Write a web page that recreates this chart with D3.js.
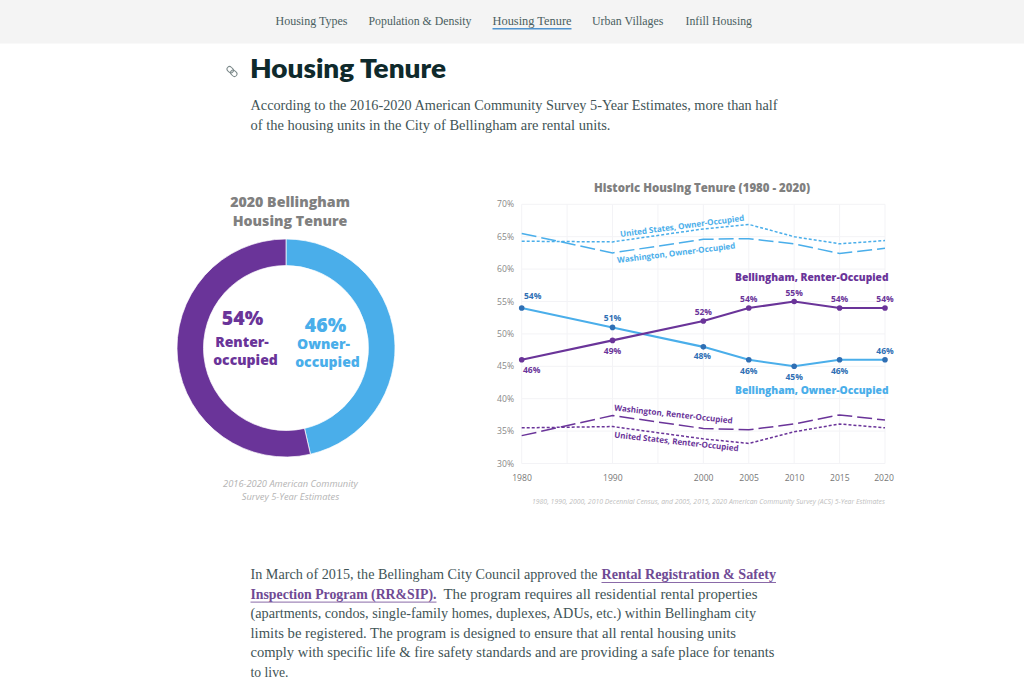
<!DOCTYPE html>
<html><head><meta charset="utf-8">
<script src="https://cdn.jsdelivr.net/npm/d3@7"></script>
<style>html,body{margin:0;padding:0;background:#fff;overflow:hidden}svg{display:block}
.s{font-family:"Liberation Serif",serif}.o{font-family:"Open Sans",sans-serif}</style></head>
<body><svg id="c" width="1024" height="683"></svg>
<script>
const years=[1980,1990,2000,2005,2010,2015,2020];
const bellRenter=[46,49,52,54,55,54,54];
const bellOwner=[54,51,48,46,45,46,46];
const usOwner=[64.3,64.2,66.2,66.9,65,63.9,64.4];
const waOwner=[65.5,62.5,64.6,64.7,63.9,62.4,63.2];
const waRenter=[34.3,37.4,35.4,35.2,36.1,37.5,36.7];
const usRenter=[35.5,35.7,33.8,33.1,34.9,36.1,35.5];
const yTicks=[30,35,40,45,50,55,60,65,70];
const xGrid=[1980,1985,1990,1995,2000,2005,2010,2015,2020];
const donutLabels=["Owner-occupied","Renter-occupied"];
const donutValues=[46.4,53.6];
const navItems=["Housing Types","Population & Density","Housing Tenure","Urban Villages","Infill Housing"];
const PURPLE="#6a3499",BLUE="#4aaeea",DOT="#2f6fb4";
const svg=d3.select("#c");
const T=(sel,x,y,str,o={})=>{const t=sel.append("text").attr("x",x).attr("y",y).text(str)
 .attr("class",o.c||"o").attr("font-size",o.s||12).attr("fill",o.f||"#333").attr("font-weight",o.w||400)
 .attr("text-anchor",o.a||"start");
 if(o.i)t.attr("font-style","italic");if(o.ff)t.style("font-family",o.ff);
 if(o.l)t.attr("textLength",o.l).attr("lengthAdjust","spacingAndGlyphs");
 if(o.r!=null)t.attr("transform",`rotate(${o.r} ${x} ${y})`);return t;};
// nav
svg.append("rect").attr("width",1024).attr("height",43.5).attr("fill","#f4f4f4");
const navX=[[275.5,72],[368.5,103],[492.5,79],[592,71.5],[685.5,66.5]];
navItems.forEach((n,i)=>T(svg,navX[i][0],25,n,{c:"s",s:12.4,f:"#4a5e60",l:navX[i][1]}));
svg.append("rect").attr("x",492.5).attr("y",28).attr("width",79).attr("height",1.5).attr("fill","#4f94cf");
// heading
const clip=svg.append("g").attr("transform","translate(232 71.5) rotate(45)").attr("fill","none").attr("stroke","#7d8a8b").attr("stroke-width",1);
clip.append("rect").attr("x",-6).attr("y",-2.5).attr("width",7).attr("height",5).attr("rx",2.5);
clip.append("rect").attr("x",-1).attr("y",-2.5).attr("width",7).attr("height",5).attr("rx",2.5);
T(svg,250,78,"Housing Tenure",{ff:"Lato",s:27,w:800,f:"#0f2a2c",l:196});
const BODY={c:"s",s:14.8,f:"#3f5456"};
T(svg,250.5,110,"According to the 2016-2020 American Community Survey 5-Year Estimates, more than half",{...BODY,l:527});
T(svg,250.5,130,"of the housing units in the City of Bellingham are rental units.",{...BODY,l:360});
// donut
const dg=svg.append("g").attr("transform","translate(286 348)");
const pie=d3.pie().sort(null)(donutValues);
const arc=d3.arc().innerRadius(82.5).outerRadius(109);
dg.selectAll("path").data(pie).join("path").attr("d",arc).attr("fill",(d,i)=>i?PURPLE:BLUE).attr("stroke","#fff").attr("stroke-width",.7);
const GT={a:"middle",w:800,f:"#808080",s:14.2};
T(svg,290,206.5,"2020 Bellingham",GT);T(svg,290,226,"Housing Tenure",GT);
T(svg,242.5,325,"54%",{a:"middle",w:800,s:19.5,f:PURPLE});
T(svg,242,347,"Renter-",{a:"middle",w:800,s:14,f:PURPLE});
T(svg,245.5,365,"occupied",{a:"middle",w:800,s:14,f:PURPLE});
T(svg,325.5,332,"46%",{a:"middle",w:800,s:19.5,f:BLUE});
T(svg,323.5,349,"Owner-",{a:"middle",w:800,s:14,f:BLUE});
T(svg,327.5,367,"occupied",{a:"middle",w:800,s:14,f:BLUE});
const SRC={a:"middle",i:true,s:9.3,f:"#b4b4b4"};
T(svg,290.5,487,"2016-2020 American Community",SRC);T(svg,290.5,499.5,"Survey 5-Year Estimates",SRC);
// line chart
const x=d3.scaleLinear().domain([1980,2020]).range([521.7,885]);
const y=d3.scaleLinear().domain([30,70]).range([463.5,204.3]);
const g=svg.append("g");
g.append("g").selectAll("line").data(yTicks).join("line").attr("x1",x(1980)).attr("x2",x(2020)).attr("y1",y).attr("y2",y).attr("stroke","#f3f3f6");
g.append("g").selectAll("line").data(xGrid).join("line").attr("x1",x).attr("x2",x).attr("y1",y(30)).attr("y2",y(70)).attr("stroke","#f3f3f6");
yTicks.forEach(t=>T(g,514,y(t)+3,t+"%",{a:"end",s:8.6,f:"#888"}));
years.forEach(t=>T(g,x(t)+(t==2020?-1:0.3),481,t,{a:"middle",s:8.6,f:"#777"}));
T(svg,702,191.5,"Historic Housing Tenure (1980 - 2020)",{a:"middle",w:800,s:11.45,f:"#808080"});
const line=d3.line().x((d,i)=>x(years[i])).y(d=>y(d));
const L=(v,c,w,dash)=>g.append("path").attr("d",line(v)).attr("fill","none").attr("stroke",c).attr("stroke-width",w).attr("stroke-dasharray",dash||null);
L(usOwner,BLUE,1.5,"3 2");L(waOwner,BLUE,1.5,"15 5");L(waRenter,PURPLE,1.5,"15 5");L(usRenter,PURPLE,1.5,"3 2");
L(bellOwner,BLUE,2.1,null);L(bellRenter,PURPLE,2.1,null);
g.append("g").selectAll("circle").data(bellOwner).join("circle").attr("cx",(d,i)=>x(years[i])).attr("cy",d=>y(d)).attr("r",2.8).attr("fill",DOT);
g.append("g").selectAll("circle").data(bellRenter).join("circle").attr("cx",(d,i)=>x(years[i])).attr("cy",d=>y(d)).attr("r",2.8).attr("fill",PURPLE);
// value labels
const roff=[[10,13],[0,14],[0,-6.3],[0,-6.3],[0,-6],[0,-6.3],[0,-6.3]];
const ooff=[[11,-8.6],[0,-6],[-1,12.4],[0,14],[0,13.3],[0,14],[0,-6]];
bellRenter.forEach((v,i)=>T(g,x(years[i])+roff[i][0],y(v)+roff[i][1],v+"%",{a:"middle",w:700,s:8.5,f:PURPLE}));
bellOwner.forEach((v,i)=>T(g,x(years[i])+ooff[i][0],y(v)+ooff[i][1],v+"%",{a:"middle",w:700,s:8.5,f:DOT}));
T(g,735,281,"Bellingham, Renter-Occupied",{w:800,s:10.6,f:PURPLE,l:153.5});
T(g,735,393.5,"Bellingham, Owner-Occupied",{w:800,s:10.6,f:BLUE,l:153.5});
T(g,620.5,237,"United States, Owner-Occupied",{w:700,s:8.2,f:BLUE,r:-7.5,l:125});
T(g,617.5,263,"Washington, Owner-Occupied",{w:700,s:8.2,f:BLUE,r:-7,l:119});
T(g,614,410.5,"Washington, Renter-Occupied",{w:700,s:8.2,f:PURPLE,r:6.3,l:119});
T(g,614,437.5,"United States, Renter-Occupied",{w:700,s:8.2,f:PURPLE,r:6.3,l:125});
T(g,885,504,"1980, 1990, 2000, 2010 Decennial Census, and 2005, 2015, 2020 American Community Survey (ACS) 5-Year Estimates",{a:"end",i:true,s:6.2,f:"#c0c0c0",l:353});
// paragraph
const LINK={c:"s",s:14.8,w:700,f:"#6f4a94"};
T(svg,250.5,579,"In March of 2015, the Bellingham City Council approved the",{...BODY,l:347});
T(svg,601.5,579,"Rental Registration & Safety",{...LINK,l:174.5});
svg.append("rect").attr("x",601.5).attr("y",582).attr("width",174.5).attr("height",1).attr("fill","#8a6aa8");
T(svg,250.5,598.6,"Inspection Program (RR&SIP).",{...LINK,l:186});
svg.append("rect").attr("x",250.5).attr("y",601.6).attr("width",186).attr("height",1).attr("fill","#8a6aa8");
T(svg,443.5,598.6,"The program requires all residential rental properties",{...BODY,l:314});
T(svg,250.5,618.2,"(apartments, condos, single-family homes, duplexes, ADUs, etc.) within Bellingham city",{...BODY,l:505.5});
T(svg,250.5,637.8,"limits be registered. The program is designed to ensure that all rental housing units",{...BODY,l:485.5});
T(svg,250.5,657.4,"comply with specific life & fire safety standards and are providing a safe place for tenants",{...BODY,l:524});
T(svg,250.5,677,"to live.",{...BODY,l:38});
</script></body></html>
